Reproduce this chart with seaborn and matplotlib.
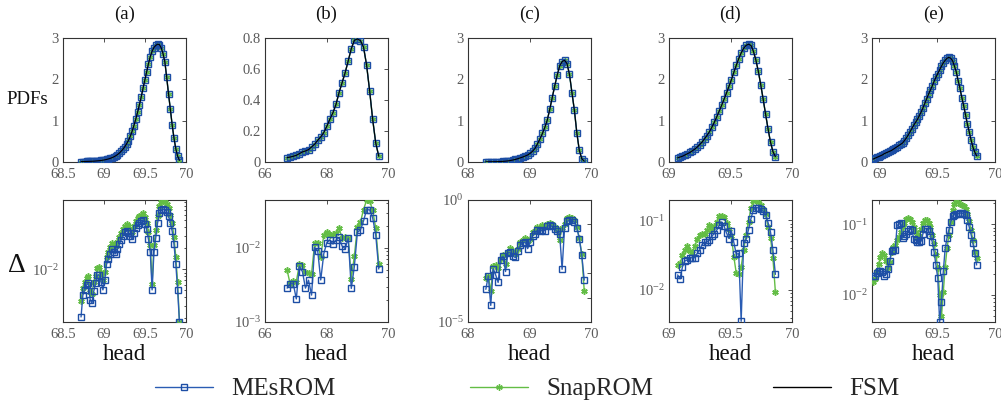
import numpy as np
import matplotlib
matplotlib.use("Agg")
import matplotlib.pyplot as plt
import seaborn as sns
from matplotlib.ticker import FixedLocator, FuncFormatter, NullLocator, LogLocator, NullFormatter
from matplotlib.lines import Line2D

sns.set_style("white")
plt.rcParams["font.family"] = ["Liberation Serif", "DejaVu Serif"]
plt.rcParams["mathtext.fontset"] = "custom"
plt.rcParams["mathtext.rm"] = "Liberation Serif"
plt.rcParams["mathtext.it"] = "Liberation Serif:italic"

# ---------------- data ----------------
panel_labels = ["(a)", "(b)", "(c)", "(d)", "(e)"]
series_names = ["MEsROM", "SnapROM", "FSM"]

# head bin centres (first, last, count) per panel
bins_a = (68.72, 69.92, 55)
bins_b = (66.72, 69.70, 31)
bins_c = (68.29, 69.89, 41)
bins_d = (69.07, 69.865, 41)
bins_e = (68.945, 69.841, 57)

pdf_a = [0.01, 0.01, 0.012, 0.013, 0.015, 0.016, 0.018, 0.02, 0.024, 0.028,
         0.032, 0.037, 0.044, 0.052, 0.062, 0.074, 0.088, 0.105, 0.125, 0.15,
         0.18, 0.215, 0.26, 0.31, 0.37, 0.44, 0.52, 0.62, 0.74, 0.88,
         1.03, 1.2, 1.38, 1.57, 1.78, 1.98, 2.18, 2.38, 2.55, 2.68,
         2.77, 2.82, 2.85, 2.84, 2.76, 2.62, 2.42, 2.05, 1.65, 1.28,
         0.9, 0.58, 0.32, 0.14, 0.04]
pdf_b = [0.028, 0.032, 0.037, 0.043, 0.054, 0.065, 0.071, 0.08, 0.097, 0.115,
         0.14, 0.162, 0.19, 0.231, 0.277, 0.318, 0.372, 0.448, 0.512, 0.577,
         0.653, 0.731, 0.785, 0.794, 0.783, 0.742, 0.627, 0.46, 0.275, 0.123,
         0.037]
pdf_c = [0.005, 0.005, 0.006, 0.007, 0.008, 0.01, 0.012, 0.015, 0.02, 0.027,
         0.036, 0.048, 0.062, 0.08, 0.1, 0.12, 0.145, 0.17, 0.21, 0.26,
         0.33, 0.44, 0.56, 0.69, 0.84, 1.02, 1.28, 1.56, 1.84, 2.1,
         2.32, 2.43, 2.46, 2.38, 2.12, 1.68, 1.25, 0.7, 0.28, 0.08, 0.02]
pdf_d = [0.1, 0.12, 0.14, 0.17, 0.2, 0.23, 0.27, 0.31, 0.36, 0.42,
         0.48, 0.56, 0.64, 0.73, 0.84, 0.96, 1.09, 1.23, 1.37, 1.52,
         1.67, 1.83, 1.99, 2.17, 2.34, 2.5, 2.64, 2.75, 2.82, 2.85,
         2.82, 2.68, 2.47, 2.2, 1.87, 1.52, 1.15, 0.8, 0.48, 0.25, 0.13]
pdf_e = [0.07, 0.09, 0.11, 0.13, 0.15, 0.17, 0.2, 0.22, 0.24, 0.26,
         0.28, 0.31, 0.34, 0.37, 0.4, 0.43, 0.46, 0.52, 0.58, 0.65,
         0.73, 0.81, 0.89, 0.96, 1.03, 1.12, 1.21, 1.31, 1.42, 1.53,
         1.64, 1.74, 1.84, 1.95, 2.05, 2.14, 2.23, 2.32, 2.4, 2.46,
         2.51, 2.53, 2.51, 2.45, 2.32, 2.18, 1.97, 1.78, 1.56, 1.36,
         1.14, 0.92, 0.73, 0.53, 0.36, 0.24, 0.15]

err_mes_a = [0.0021, 0.0043, 0.0051, 0.006, 0.0063, 0.0037, 0.0033, 0.0049, 0.0063, 0.0083,
             0.0083, 0.0067, 0.0051, 0.007, 0.0118, 0.0141, 0.0166, 0.0194, 0.0175, 0.0166,
             0.0194, 0.0228, 0.0262, 0.0298, 0.0339, 0.035, 0.0332, 0.0298, 0.0268, 0.0332,
             0.039, 0.0434, 0.0457, 0.0483, 0.0509, 0.0448, 0.0369, 0.0268, 0.0175, 0.0051,
             0.0175, 0.0282, 0.0457, 0.0631, 0.0703, 0.0718, 0.0703, 0.0665, 0.0579, 0.0457,
             0.035, 0.0228, 0.012, 0.0051, 0.0018]
err_snap_a = [0.0035, 0.0055, 0.0065, 0.0075, 0.008, 0.0048, 0.0045, 0.0065, 0.008, 0.0105,
              0.0108, 0.0088, 0.007, 0.0092, 0.015, 0.0178, 0.021, 0.024, 0.0225, 0.0215,
              0.0245, 0.029, 0.033, 0.0375, 0.042, 0.044, 0.042, 0.038, 0.034, 0.042,
              0.049, 0.054, 0.057, 0.06, 0.063, 0.056, 0.046, 0.034, 0.022, 0.0062,
              0.022, 0.036, 0.058, 0.08, 0.09, 0.095, 0.092, 0.086, 0.075, 0.059,
              0.045, 0.029, 0.015, 0.0065, 0.0018]
err_mes_b = [0.00287, 0.0033, 0.0033, 0.00205, 0.0057, 0.0048, 0.00287, 0.00367, 0.00231, 0.0102,
             0.0092, 0.0037, 0.0084, 0.0118, 0.0129, 0.0113, 0.0128, 0.0139, 0.0106, 0.0098,
             0.0136, 0.00284, 0.0056, 0.0163, 0.0175, 0.0231, 0.0328, 0.0328, 0.0256, 0.0151,
             0.0052]
err_snap_b = [0.005, 0.00325, 0.0036, 0.0035, 0.006, 0.0058, 0.0048, 0.0046, 0.0045, 0.0117,
              0.0117, 0.0075, 0.0151, 0.0167, 0.0151, 0.0154, 0.0159, 0.0185, 0.0136, 0.0139,
              0.0136, 0.00386, 0.0077, 0.0195, 0.0222, 0.0331, 0.044, 0.0432, 0.0325, 0.0185,
              0.006]
err_mes_c = [2.19e-4, 7.76e-4, 4.79e-5, 1.55e-3, 8.5e-4, 4.17e-4, 3.39e-3, 5.0e-3, 1.17e-3, 6.9e-3,
             7.2e-3, 5.0e-3, 4.4e-3, 8.1e-3, 1.38e-2, 1.74e-2, 1.9e-2, 1.02e-2, 1.9e-2, 3.5e-2,
             4.1e-2, 6.0e-2, 5.2e-2, 6.0e-2, 5.5e-2, 8.3e-2, 9.1e-2, 8.3e-2, 6.5e-2, 5.2e-2,
             4.1e-2, 1.45e-3, 7.1e-2, 0.132, 0.145, 0.145, 0.123, 7.1e-2, 2.6e-2, 5.5e-3,
             5.2e-4]
err_snap_c = [6.3e-4, 7.8e-4, 1.8e-4, 2.0e-3, 2.1e-3, 1.6e-3, 3.7e-3, 5.5e-3, 2.3e-3, 6.9e-3,
              1.1e-2, 8.1e-3, 6.3e-3, 1.0e-2, 1.9e-2, 2.4e-2, 2.8e-2, 2.0e-2, 2.6e-2, 4.8e-2,
              5.5e-2, 7.6e-2, 7.1e-2, 9.1e-2, 8.3e-2, 0.102, 0.112, 0.102, 7.6e-2, 6.0e-2,
              2.4e-2, 7.1e-2, 0.102, 0.182, 0.209, 0.19, 0.155, 7.6e-2, 2.8e-2, 5.9e-3,
              1.9e-4]
err_mes_d = [0.0164, 0.0144, 0.0215, 0.0262, 0.0269, 0.029, 0.029, 0.029, 0.0334, 0.0372,
             0.0449, 0.048, 0.049, 0.0518, 0.059, 0.0646, 0.0719, 0.0849, 0.0946, 0.083,
             0.0659, 0.0547, 0.0705, 0.048, 0.0324, 0.0334, 0.00353, 0.0465, 0.053, 0.0736,
             0.1057, 0.1419, 0.1517, 0.1517, 0.1469, 0.1346, 0.1205, 0.0927, 0.0681, 0.0372,
             0.0167]
err_snap_d = [0.0228, 0.024, 0.0316, 0.0372, 0.043, 0.0361, 0.0334, 0.043, 0.053, 0.0611,
              0.0646, 0.0631, 0.0719, 0.0867, 0.0719, 0.083, 0.0946, 0.114, 0.1153, 0.1117,
              0.0927, 0.076, 0.0597, 0.0299, 0.0173, 0.0167, 0.0215, 0.0372, 0.0624, 0.0946,
              0.15, 0.1888, 0.1932, 0.1828, 0.1675, 0.1469, 0.1245, 0.0804, 0.056, 0.0283,
              0.0093]
err_mes_e = [0.0187, 0.0187, 0.0202, 0.0218, 0.0218, 0.0208, 0.0187, 0.0195, 0.0232, 0.0301,
             0.0417, 0.0431, 0.0431, 0.0968, 0.1, 0.1045, 0.0642, 0.0685, 0.0739, 0.0797,
             0.0869, 0.0823, 0.0628, 0.0595, 0.0564, 0.0564, 0.0576, 0.0739, 0.0869, 0.0869,
             0.0797, 0.07, 0.0564, 0.0407, 0.0265, 0.0172, 0.00412, 0.00789, 0.0218, 0.0454,
             0.0642, 0.0841, 0.1079, 0.1309, 0.1368, 0.1383, 0.1413, 0.1445, 0.1445, 0.1413,
             0.134, 0.1164, 0.0917, 0.0714, 0.0535, 0.0386, 0.0265]
err_snap_e = [0.0154, 0.0168, 0.0218, 0.027, 0.0347, 0.0386, 0.0366, 0.0301, 0.0243, 0.0288,
              0.0407, 0.048, 0.0506, 0.0595, 0.0664, 0.078, 0.0917, 0.1055, 0.1175, 0.1227,
              0.1202, 0.1079, 0.0917, 0.078, 0.0664, 0.0685, 0.0851, 0.1055, 0.1164, 0.1138,
              0.1055, 0.0917, 0.07, 0.0518, 0.0366, 0.0238, 0.01, 0.00495, 0.0111, 0.0251,
              0.0454, 0.07, 0.1079, 0.1574, 0.1954, 0.2178, 0.2063, 0.1954, 0.1892, 0.1811,
              0.1663, 0.1413, 0.1101, 0.0823, 0.0595, 0.0407, 0.0336]

# axis settings per panel
xlims = [(68.5, 70), (66, 70), (68, 70), (69, 70), (68.936, 70.0)]
xticks = [[68.5, 69, 69.5, 70], [66, 68, 70], [68, 69, 70], [69, 69.5, 70], [69, 69.5, 70]]
pdf_ylims = [(0, 3), (0, 0.8), (0, 3), (0, 3), (0, 3)]
pdf_yticks = [[0, 1, 2, 3], [0, 0.2, 0.4, 0.6, 0.8], [0, 1, 2, 3], [0, 1, 2, 3], [0, 1, 2, 3]]
err_ylims = [(0.00178, 0.097), (1e-3, 0.0445), (1e-5, 1.0), (0.00345, 0.196), (0.00412, 0.221)]
err_major = [[1e-2], [1e-3, 1e-2], [1e-5, 1e-4, 1e-3, 1e-2, 1e-1, 1e0], [1e-2, 1e-1], [1e-2, 1e-1]]
err_labeled = [[-2], [-3, -2], [-5, 0], [-2, -1], [-2, -1]]

bins = [bins_a, bins_b, bins_c, bins_d, bins_e]
pdfs = [pdf_a, pdf_b, pdf_c, pdf_d, pdf_e]
err_mes = [err_mes_a, err_mes_b, err_mes_c, err_mes_d, err_mes_e]
err_snap = [err_snap_a, err_snap_b, err_snap_c, err_snap_d, err_snap_e]

# ---------------- styling ----------------
W, H = 1001, 408
BLUE = "#2a5cb3"
BLUE_EDGE = "#1d4ea5"
GREEN = "#63bd45"
FRAME = "#333333"
TICKC = "#5a5a5a"
AST = (6, 2, 0)

fig = plt.figure(figsize=(W / 100, H / 100), dpi=100)
lefts = [63, 265, 468, 669, 872]
AW = 123


def add_ax(left, top, bottom):
    return fig.add_axes([left / W, 1 - bottom / H, AW / W, (bottom - top) / H])


def style_ax(ax):
    for s in ax.spines.values():
        s.set_color(FRAME)
        s.set_linewidth(0.8)
    ax.tick_params(which="both", direction="in", top=True, right=True,
                   colors=FRAME, labelcolor=TICKC, labelsize=10.5, width=0.6)
    ax.tick_params(which="major", length=2.6)
    ax.tick_params(axis="x", which="major", pad=4.5)
    ax.tick_params(axis="y", which="major", pad=3.0)
    ax.tick_params(which="minor", length=1.5)
    ax.set_xlabel("")
    ax.set_ylabel("")


gfmt = FuncFormatter(lambda v, p: f"{v:g}")


def line(ax, x, y, color, marker, ms, mfc, mec, mew, z, lw=1.0):
    sns.lineplot(x=x, y=y, ax=ax, color=color, marker=marker, markersize=ms,
                 markerfacecolor=mfc, markeredgecolor=mec, markeredgewidth=mew,
                 linewidth=lw, zorder=z, sort=False, estimator=None, legend=False)


for i in range(5):
    x0, x1, n = bins[i]
    x = np.linspace(x0, x1, n)
    # --- top: PDFs ---
    ax = add_ax(lefts[i], 38, 162)
    y = np.array(pdfs[i])
    line(ax, x, y, GREEN, AST, 3.6, GREEN, GREEN, 1.0, 3)
    line(ax, x, y, BLUE, "s", 4.4, "none", BLUE_EDGE, 1.0, 4)
    line(ax, x, y, "black", None, 0, "none", "black", 0, 5, lw=0.8)
    ax.set_xlim(*xlims[i])
    ax.set_ylim(*pdf_ylims[i])
    ax.xaxis.set_major_locator(FixedLocator(xticks[i]))
    ax.yaxis.set_major_locator(FixedLocator(pdf_yticks[i]))
    ax.xaxis.set_major_formatter(gfmt)
    ax.yaxis.set_major_formatter(gfmt)
    style_ax(ax)
    fig.text((lefts[i] + AW / 2) / W, 1 - 14 / H, panel_labels[i],
             ha="center", va="center", fontsize=13.5, color="#111111")

    # --- bottom: errors ---
    ax2 = add_ax(lefts[i], 200, 322)
    ax2.set_yscale("log")
    line(ax2, x, np.array(err_snap[i]), GREEN, AST, 4.6, GREEN, GREEN, 1.1, 3)
    line(ax2, x, np.array(err_mes[i]), BLUE, "s", 4.4, "none", BLUE_EDGE, 1.0, 4)
    ax2.set_xlim(*xlims[i])
    ax2.set_ylim(*err_ylims[i])
    ax2.xaxis.set_major_locator(FixedLocator(xticks[i]))
    ax2.xaxis.set_major_formatter(gfmt)
    ax2.yaxis.set_major_locator(FixedLocator(err_major[i]))
    labeled = err_labeled[i]
    ax2.yaxis.set_major_formatter(FuncFormatter(
        lambda v, p, lab=labeled: (r"$10^{%d}$" % round(np.log10(v))) if round(np.log10(v)) in lab else ""))
    if i == 2:
        ax2.yaxis.set_minor_locator(NullLocator())
    else:
        ax2.yaxis.set_minor_locator(LogLocator(base=10, subs=np.arange(2, 10)))
    ax2.yaxis.set_minor_formatter(NullFormatter())
    style_ax(ax2)
    fig.text((lefts[i] + AW / 2) / W, 1 - 355 / H, "head",
             ha="center", va="center", fontsize=16.5, color="#111111")

fig.text(27 / W, 1 - 100 / H, "PDFs", ha="center", va="center", fontsize=13.5, color="#111111")
fig.text(17 / W, 1 - 266 / H, "Δ", ha="center", va="center", fontsize=20, color="#111111")

# ---------------- legend ----------------
h_mes = Line2D([], [], color=BLUE, lw=1.0, marker="s", ms=4.4, mfc="none", mec=BLUE_EDGE, mew=1.0)
h_snap = Line2D([], [], color=GREEN, lw=1.0, marker=AST, ms=4.6, mfc=GREEN, mec=GREEN, mew=1.0)
h_fsm = Line2D([], [], color="black", lw=1.0)
for h, lab, xpx in [(h_mes, series_names[0], 155), (h_snap, series_names[1], 470), (h_fsm, series_names[2], 773)]:
    fig.legend([h], [lab], loc="center left", bbox_to_anchor=(xpx / W, 1 - 389 / H),
               frameon=False, fontsize=18, handlelength=2.3, handletextpad=0.75,
               borderpad=0, borderaxespad=0, numpoints=1)

fig.savefig("out.png", dpi=100)
